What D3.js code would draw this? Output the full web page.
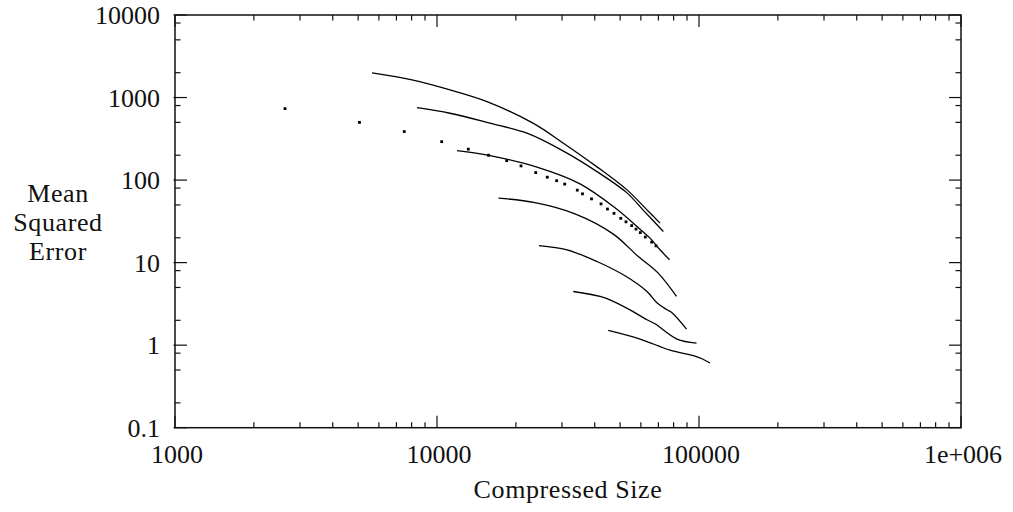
<!DOCTYPE html>
<html>
<head>
<meta charset="utf-8">
<script src="https://cdn.jsdelivr.net/npm/d3@7"></script>
<style>
  html, body { margin: 0; padding: 0; background: #fff; }
</style>
</head>
<body>
<svg id="chart" width="1013" height="512"></svg>
<script>
// Compressed size (bytes) vs. mean squared error, one series per setting
const sizeTicks = [1000, 10000, 100000, 1000000];
const sizeTickLabels = ["1000", "10000", "100000", "1e+006"];
const errorTicks = [0.1, 1, 10, 100, 1000, 10000];
const errorTickLabels = ["0.1", "1", "10", "100", "1000", "10000"];
const sizeMinorSteps = [2, 3, 4, 5, 6, 7, 8, 9];
const errorMinorSteps = [2, 5, 8];

// [compressed size, mean squared error]
const series1 = [[5650, 1985], [8030, 1634], [11210, 1236], [15510, 892], [23250, 489],
  [30260, 282], [40800, 144.5], [53100, 76.1], [63300, 43.6], [71000, 30.1]];
const series2 = [[8390, 754], [11210, 645], [15930, 489], [22050, 370], [30260, 226],
  [40800, 126.7], [53100, 70.0], [61100, 43.6], [73100, 23.8]];
const series3 = [[11920, 227.6], [15930, 198], [24080, 143.3], [35140, 90], [47800, 46.1],
  [61100, 23.6], [65000, 19.8], [71000, 14.3], [77200, 10.81]];
const series4 = [[17170, 60.4], [23660, 53.3], [33630, 39.0], [46970, 22.3], [58500, 11.92],
  [69700, 7.52], [82100, 3.89]];
const series5 = [[24510, 16.1], [31350, 14.3], [40800, 10.31], [52190, 6.92], [63300, 4.47],
  [69100, 3.26], [75500, 2.68], [78900, 2.47], [89600, 1.567]];
const series6 = [[33130, 4.47], [41900, 3.89], [45740, 3.545], [54530, 2.68], [63300, 2.03],
  [67920, 1.816], [82400, 1.185], [97840, 1.06]];
const series7 = [[45050, 1.507], [59550, 1.185], [77500, 0.872], [96540, 0.738], [102700, 0.684],
  [110200, 0.607]];
const pointSeries = [[2630, 734], [5060, 500], [7500, 387], [10420, 292], [13170, 237], [15730, 200],
  [18450, 171.8], [20920, 148.5], [23810, 123.2], [26360, 108.4], [28630, 98.3], [30720, 89.5],
  [34310, 75.5], [35920, 68.1], [38880, 59.2], [42270, 51.5], [44740, 44.6], [47380, 39.5],
  [50290, 34.4], [52650, 31.2], [55350, 28.1], [57470, 25.5], [59700, 23.1], [62370, 20.4],
  [65980, 17.7], [68520, 15.97]];

const lineSeries = [series1, series2, series3, series4, series5, series6, series7];

const svg = d3.select("#chart")
  .attr("font-family", "'Liberation Serif', Tinos, 'Times New Roman', serif")
  .attr("font-size", 26);
const plotLeft = 175, plotRight = 961, plotTop = 15, plotBottom = 427.7;

const x = d3.scaleLog().domain([1000, 1000000]).range([plotLeft, plotRight]);
const y = d3.scaleLog().domain([0.1, 10000]).range([plotBottom, plotTop]);

const g = svg.append("g");

// minor and major tick marks on all four sides, pointing inward
const tickLayer = g.append("g").attr("stroke", "#111").attr("stroke-width", 1.2);
const majorLen = 12, minorLen = 5.5;

sizeTicks.forEach((t, i) => {
  if (i < sizeTicks.length - 1) {
    sizeMinorSteps.forEach(m => {
      const px = x(t * m);
      tickLayer.append("line").attr("x1", px).attr("x2", px).attr("y1", plotBottom).attr("y2", plotBottom - minorLen);
      tickLayer.append("line").attr("x1", px).attr("x2", px).attr("y1", plotTop).attr("y2", plotTop + minorLen);
    });
  }
  const px = x(t);
  tickLayer.append("line").attr("x1", px).attr("x2", px).attr("y1", plotBottom).attr("y2", plotBottom - majorLen);
  tickLayer.append("line").attr("x1", px).attr("x2", px).attr("y1", plotTop).attr("y2", plotTop + majorLen);
});

errorTicks.forEach((t, i) => {
  if (i < errorTicks.length - 1) {
    errorMinorSteps.forEach(m => {
      const py = y(t * m);
      tickLayer.append("line").attr("x1", plotLeft).attr("x2", plotLeft + minorLen).attr("y1", py).attr("y2", py);
      tickLayer.append("line").attr("x1", plotRight).attr("x2", plotRight - minorLen).attr("y1", py).attr("y2", py);
    });
  }
  const py = y(t);
  tickLayer.append("line").attr("x1", plotLeft - 1.5).attr("x2", plotLeft + majorLen).attr("y1", py).attr("y2", py);
  tickLayer.append("line").attr("x1", plotRight).attr("x2", plotRight - majorLen).attr("y1", py).attr("y2", py);
});

// frame
g.append("rect")
  .attr("x", plotLeft).attr("y", plotTop)
  .attr("width", plotRight - plotLeft).attr("height", plotBottom - plotTop)
  .attr("fill", "none").attr("stroke", "#111").attr("stroke-width", 1.5);

// tick labels
g.selectAll("text.xlab").data(sizeTicks).join("text")
  .attr("class", "xlab")
  .attr("x", d => x(d) + 2)
  .attr("y", plotBottom + 35.6)
  .attr("text-anchor", "middle")
  .attr("fill", "#111")
  .text((d, i) => sizeTickLabels[i]);

g.selectAll("text.ylab").data(errorTicks).join("text")
  .attr("class", "ylab")
  .attr("x", plotLeft - 15)
  .attr("y", d => y(d) + 9)
  .attr("text-anchor", "end")
  .attr("fill", "#111")
  .text((d, i) => errorTickLabels[i]);

// axis titles
g.append("text")
  .attr("x", (plotLeft + plotRight) / 2)
  .attr("y", 498)
  .attr("text-anchor", "middle")
  .attr("fill", "#111")
  .attr("letter-spacing", 0.6)
  .text("Compressed Size");

const ytitle = g.append("text").attr("text-anchor", "middle").attr("fill", "#111").attr("letter-spacing", 0.6);
["Mean", "Squared", "Error"].forEach((w, i) => {
  ytitle.append("tspan").attr("x", 58).attr("y", 202.3 + i * 29).text(w);
});

// data
const line = d3.line()
  .x(d => x(d[0]))
  .y(d => y(d[1]))
  .curve(d3.curveCatmullRom.alpha(0.5));

g.append("g").selectAll("path").data(lineSeries).join("path")
  .attr("d", line)
  .attr("fill", "none")
  .attr("stroke", "#000")
  .attr("stroke-width", 1.3);

g.append("g").selectAll("rect").data(pointSeries).join("rect")
  .attr("x", d => x(d[0]) - 1.4)
  .attr("y", d => y(d[1]) - 1.4)
  .attr("width", 2.8)
  .attr("height", 2.8)
  .attr("fill", "#000");
</script>
</body>
</html>
